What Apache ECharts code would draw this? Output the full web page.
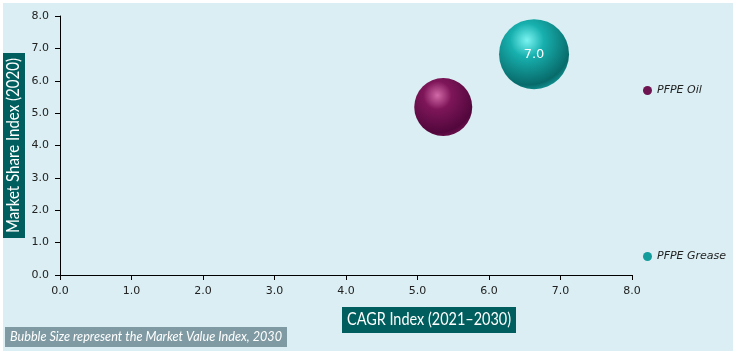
<!DOCTYPE html>
<html><head><meta charset="utf-8">
<script src="https://cdn.jsdelivr.net/npm/echarts@6/dist/echarts.min.js"></script>
<style>html,body{margin:0;padding:0;background:#fff}#c{width:741px;height:355px;}</style>
</head><body><div id="c"></div>
<script>
var seriesNames = ['PFPE Oil', 'PFPE Grease'];
var cagrIndex = [5.36, 6.63];
var shareIndex = [5.19, 6.82];
var valueIndex = [5.8, 7.0];
var showLabel = [false, true];

var xTitle = 'CAGR Index (2021\u20132030)';
var yTitle = 'Market Share Index (2020)';
var footnote = 'Bubble Size represent the Market Value Index, 2030';

var grads = [
  ['#d26aa8', '#7e1659', '#52073c'],
  ['#7af4f2', '#17b0ae', '#086a6a']
];
var legendColors = ['#6e1450', '#139c9c'];

var ctx = document.createElement('canvas').getContext('2d');
function fitScale(text, font, target) {
  ctx.font = font;
  return target / ctx.measureText(text).width;
}

var chart = echarts.init(document.getElementById('c'));
var series = seriesNames.map(function (n, i) {
  return {
    name: n, type: 'scatter',
    data: [[cagrIndex[i], shareIndex[i], valueIndex[i]]],
    symbolSize: function (v) { return v[2] * 10; },
    itemStyle: {
      opacity: 1,
      color: new echarts.graphic.RadialGradient(0.4, 0.3, 0.8, [
        { offset: 0, color: grads[i][0] },
        { offset: 0.3, color: grads[i][1] },
        { offset: 0.8, color: grads[i][2] },
        { offset: 1, color: grads[i][1] }
      ])
    },
    emphasis: { disabled: true },
    label: {
      show: showLabel[i], position: 'inside', color: '#fff',
      fontFamily: 'Verdana, DejaVu Sans', fontSize: 13,
      formatter: function (p) { return p.value[2].toFixed(1); }
    }
  };
});

var fTitle = '17px Lato';
var fFoot = 'italic 13px Lato';
var sx = fitScale(xTitle, fTitle, 164);
var sy = fitScale(yTitle, fTitle, 175);
var sf = fitScale(footnote, fFoot, 272);

chart.setOption({
  backgroundColor: '#ffffff',
  animation: false,
  grid: { left: 60, right: 109, top: 16, bottom: 80, containLabel: false, outerBoundsMode: 'none' },
  legend: {
    orient: 'vertical', left: 638, top: 80, itemGap: 155,
    icon: 'circle', itemWidth: 9, itemHeight: 9,
    textStyle: { fontStyle: 'italic', fontSize: 11, color: '#222', fontFamily: 'DejaVu Sans' },
    data: seriesNames.map(function (n, i) {
      return { name: n, itemStyle: { color: legendColors[i] } };
    })
  },
  xAxis: {
    type: 'value', min: 0, max: 8, interval: 1,
    axisLine: { show: true, onZero: false, lineStyle: { color: '#000' } },
    axisTick: { show: true, length: 5, lineStyle: { color: '#000' } },
    splitLine: { show: false },
    axisLabel: { color: '#222', fontSize: 11, fontFamily: 'Verdana, DejaVu Sans', margin: 11,
      formatter: function (v) { return v.toFixed(1); } }
  },
  yAxis: {
    type: 'value', min: 0, max: 8, interval: 1,
    axisLine: { show: true, onZero: false, lineStyle: { color: '#000' } },
    axisTick: { show: true, length: 5, lineStyle: { color: '#000' } },
    splitLine: { show: false },
    axisLabel: { color: '#222', fontSize: 11, fontFamily: 'Verdana, DejaVu Sans', margin: 11,
      formatter: function (v) { return v.toFixed(1); } }
  },
  graphic: [
    { type: 'rect', x: 3, y: 3, z: -10, shape: { width: 730, height: 348 },
      style: { fill: '#daeef3' }, silent: true },
    { type: 'rect', x: 342, y: 307, shape: { width: 174, height: 26 }, style: { fill: '#005e5e' } },
    { type: 'text', x: 429, y: 320, scaleX: sx,
      style: { text: xTitle, fill: '#fff', font: fTitle, align: 'center', verticalAlign: 'middle' } },
    { type: 'rect', x: 3, y: 53, shape: { width: 22, height: 185 }, style: { fill: '#005e5e' } },
    { type: 'text', x: 14, y: 145.5, rotation: Math.PI / 2, scaleX: sy,
      style: { text: yTitle, fill: '#fff', font: fTitle, align: 'center', verticalAlign: 'middle' } },
    { type: 'rect', x: 5, y: 327, shape: { width: 282, height: 20 }, style: { fill: '#7f9aa3' } },
    { type: 'text', x: 146, y: 337, scaleX: sf,
      style: { text: footnote, fill: '#fff', font: fFoot, align: 'center', verticalAlign: 'middle' } }
  ],
  series: series
});
</script></body></html>
